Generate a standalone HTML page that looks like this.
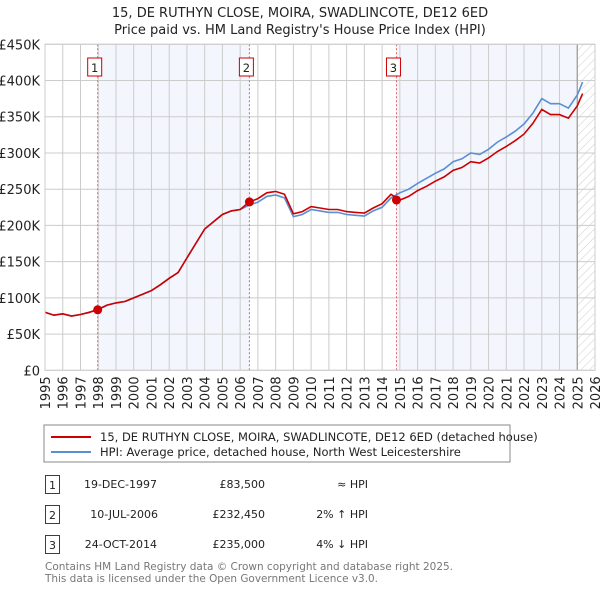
<!DOCTYPE html>
<html><head><meta charset="utf-8"><style>
body{margin:0;background:#fff;font-family:"Liberation Sans","DejaVu Sans",sans-serif;}
svg text{font-family:"DejaVu Sans","Liberation Sans",sans-serif;}
</style></head><body>
<svg id="c" width="600" height="590" xmlns="http://www.w3.org/2000/svg">
<defs><pattern id="hatch" width="6" height="6" patternUnits="userSpaceOnUse" patternTransform="rotate(45)"><line x1="0" y1="0" x2="0" y2="6" stroke="#ccc" stroke-width="1"/></pattern></defs>
<text x="300" y="17" text-anchor="middle" font-size="13" fill="#222">15, DE RUTHYN CLOSE, MOIRA, SWADLINCOTE, DE12 6ED</text>
<text x="300" y="34" text-anchor="middle" font-size="13" fill="#222">Price paid vs. HM Land Registry's House Price Index (HPI)</text>
<g id="plot"></g>
<rect x="44" y="425" width="466" height="37" fill="#fff" stroke="#888"/>
<line x1="51" y1="437" x2="91" y2="437" stroke="#cc0000" stroke-width="2"/>
<text x="100" y="441" font-size="11.5" fill="#222">15, DE RUTHYN CLOSE, MOIRA, SWADLINCOTE, DE12 6ED (detached house)</text>
<line x1="51" y1="452" x2="91" y2="452" stroke="#5b8fd4" stroke-width="2"/>
<text x="100" y="456" font-size="11.5" fill="#222">HPI: Average price, detached house, North West Leicestershire</text>
<g font-size="11" fill="#222">
<rect x="45.5" y="475.5" width="14" height="18" fill="#fff" stroke="#cc0000"/><text x="52.5" y="489" text-anchor="middle">1</text>
<text x="157" y="488" text-anchor="end">19-DEC-1997</text><text x="265" y="488" text-anchor="end">£83,500</text><text x="368" y="488" text-anchor="end">≈ HPI</text>
<rect x="45.5" y="505.5" width="14" height="18" fill="#fff" stroke="#cc0000"/><text x="52.5" y="519" text-anchor="middle">2</text>
<text x="158" y="518" text-anchor="end">10-JUL-2006</text><text x="265" y="518" text-anchor="end">£232,450</text><text x="368" y="518" text-anchor="end">2% ↑ HPI</text>
<rect x="45.5" y="535.5" width="14" height="18" fill="#fff" stroke="#cc0000"/><text x="52.5" y="549" text-anchor="middle">3</text>
<text x="157" y="548" text-anchor="end">24-OCT-2014</text><text x="265" y="548" text-anchor="end">£235,000</text><text x="368" y="548" text-anchor="end">4% ↓ HPI</text>
</g>
<text x="45" y="570" font-size="11" fill="#777" textLength="408" lengthAdjust="spacingAndGlyphs">Contains HM Land Registry data © Crown copyright and database right 2025.</text>
<text x="45" y="582" font-size="11" fill="#777" textLength="333" lengthAdjust="spacingAndGlyphs">This data is licensed under the Open Government Licence v3.0.</text>
</svg>
<script>
const years=[1995,1995.5,1996,1996.5,1997,1997.5,1998,1998.5,1999,1999.5,2000,2000.5,2001,2001.5,2002,2002.5,2003,2003.5,2004,2004.5,2005,2005.5,2006,2006.5,2007,2007.5,2008,2008.5,2009,2009.5,2010,2010.5,2011,2011.5,2012,2012.5,2013,2013.5,2014,2014.5,2015,2015.5,2016,2016.5,2017,2017.5,2018,2018.5,2019,2019.5,2020,2020.5,2021,2021.5,2022,2022.5,2023,2023.5,2024,2024.5,2025,2025.3];
const hpiValues=[80,76,78,75,77,80,84,90,93,95,100,105,110,118,127,135,155,175,195,205,215,220,222,228,232,240,242,238,212,215,222,220,218,218,215,214,213,220,225,238,245,250,258,265,272,278,288,292,300,298,305,315,322,330,340,355,375,368,368,362,380,398];
const propertyValues=[80,76,78,75,77,80,84,90,93,95,100,105,110,118,127,135,155,175,195,205,215,220,222,232,237,245,247,243,216,219,226,224,222,222,219,218,217,224,230,243,235,240,248,254,261,267,276,280,288,286,293,302,309,317,326,341,360,353,353,348,365,382];
const saleYears=[1997.97,2006.52,2014.81];
const salePrices=[83.5,232.45,235];
const saleLabels=["1","2","3"];
const yTicks=[0,50,100,150,200,250,300,350,400,450];
const yTickLabels=["£0","£50K","£100K","£150K","£200K","£250K","£300K","£350K","£400K","£450K"];
const xTicks=[];for(let y=1995;y<=2026;y++)xTicks.push(y);

const L=45,R=595,T=44.3,B=370.3;
const X=y=>L+(y-1995)*(R-L)/31;
const Y=v=>B-v*(B-T)/450;
const NS="http://www.w3.org/2000/svg";
const g=document.getElementById('plot');
function mk(t,a,p){const e=document.createElementNS(NS,t);for(const k in a)e.setAttribute(k,a[k]);(p||g).appendChild(e);return e;}

let r=mk('rect',{x:X(saleYears[0]),y:T,width:X(saleYears[1])-X(saleYears[0]),height:B-T,fill:'#f3f6fd'});


r=mk('rect',{x:X(saleYears[2]),y:T,width:X(2025)-X(saleYears[2]),height:B-T,fill:'#f3f6fd'});


r=mk('rect',{x:X(2025),y:T,width:R-X(2025),height:B-T,fill:'url(#hatch)'});



yTicks.forEach((v,i)=>{
 const l=mk('line',{x1:L,x2:R,y1:Y(v),y2:Y(v),stroke:'#ccc','stroke-width':1});
 
 
 const t=mk('text',{x:40,y:Y(v)+5,'text-anchor':'end','font-size':13,fill:'#222'});
 t.textContent=yTickLabels[i];
 
 
});
xTicks.forEach(yr=>{
 const l=mk('line',{x1:X(yr),x2:X(yr),y1:T,y2:B,stroke:'#ccc','stroke-width':1});
 
 
 const t=mk('text',{transform:`translate(${X(yr)+5},${B+6}) rotate(-90)`,'text-anchor':'end','font-size':13,fill:'#222'});
 t.textContent=yr;
 
 
});
let bl=mk('line',{x1:X(2025),x2:X(2025),y1:T,y2:B,stroke:'#999','stroke-width':1.2});



saleYears.forEach((s,i)=>{
 const l=mk('line',{x1:X(s),x2:X(s),y1:T,y2:B,stroke:'#e06060','stroke-width':1,'stroke-dasharray':'2,2'});
 
 
 const b=mk('rect',{x:X(s)-10,y:58,width:14,height:18,fill:'#fff',stroke:'#cc0000'});
 
 
 const t=mk('text',{x:X(s)-3,y:72,'text-anchor':'middle','font-size':11.5,fill:'#222'});
 t.textContent=saleLabels[i];
 
 
});
function path(vals,col,name){
 const d=vals.map((v,i)=>(i?'L':'M')+X(years[i]).toFixed(1)+','+Y(v).toFixed(1)).join('');
 const p=mk('path',{d:d,fill:'none',stroke:col,'stroke-width':1.6});
 
 
}
path(hpiValues,'#5b8fd4','hpi-line');
path(propertyValues,'#cc0000','property-price-line');
saleYears.forEach((s,i)=>{
 const c=mk('circle',{cx:X(s),cy:Y(salePrices[i]),r:4.5,fill:'#cc0000'});
 
 
});
let ax=mk('rect',{x:L,y:T,width:R-L,height:B-T,fill:'none',stroke:'#ccc'});


</script>
</body></html>
